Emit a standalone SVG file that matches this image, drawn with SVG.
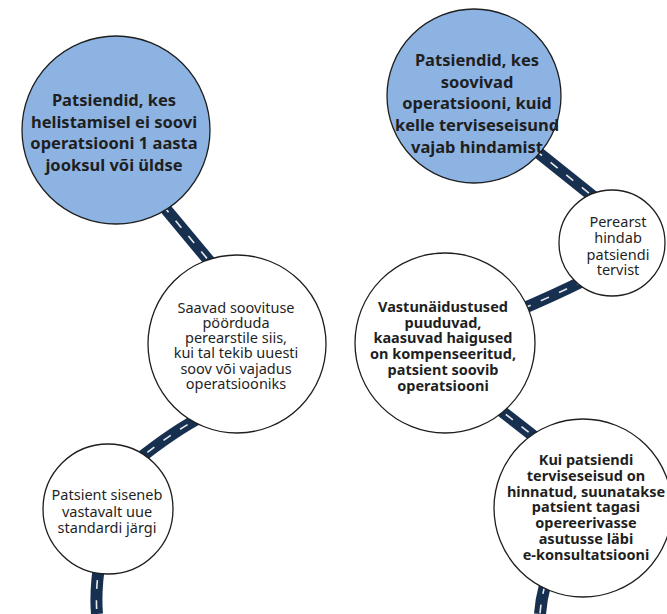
<svg xmlns="http://www.w3.org/2000/svg" width="667" height="614" viewBox="0 0 667 614">
<style>
.road{fill:none;stroke:#17304f;stroke-width:12;stroke-linecap:butt}
.dash{fill:none;stroke:#e6e9ee;stroke-width:1.6;stroke-dasharray:9 11}
.blue{fill:#8db3e2;stroke:#1e1e1e;stroke-width:1.3}
.white{fill:#ffffff;stroke:#1e1e1e;stroke-width:1.3}
text{font-family:"Noto Sans","Open Sans","DejaVu Sans",sans-serif;fill:#1f1f1f;text-anchor:middle}
.b16{font-size:16.5px;font-weight:bold}
.b14{font-size:14.5px;font-weight:bold}
.r14{font-size:14.5px}
</style>
<rect width="667" height="614" fill="#ffffff"/>
<g id="connectors">
<path class="road" d="M150 190 L215 268"/>
<path class="dash" d="M150 190 L215 268"/>
<path class="road" d="M205 415 Q175 430 135 462"/>
<path class="dash" d="M205 415 Q175 430 135 462"/>
<path class="road" d="M100 560 Q95 590 97 614"/>
<path class="dash" d="M100 560 Q95 590 97 614"/>
<path class="road" d="M535 150 L595 198"/>
<path class="dash" d="M535 150 L595 198"/>
<path class="road" d="M585 280 Q555 295 515 312"/>
<path class="dash" d="M585 280 Q555 295 515 312"/>
<path class="road" d="M490 402 L545 445"/>
<path class="dash" d="M490 402 L545 445"/>
<path class="road" d="M545 585 Q541 600 540 614"/>
<path class="dash" d="M545 585 Q541 600 540 614"/>
</g>
<g id="n1">
<circle class="blue" cx="116" cy="130" r="94"/>
<text class="b16"><tspan x="114" y="106">Patsiendid, kes</tspan><tspan x="114" y="128">helistamisel ei soovi</tspan><tspan x="114" y="149">operatsiooni 1 aasta</tspan><tspan x="114" y="171">jooksul või üldse</tspan></text>
</g>
<g id="n2">
<circle class="white" cx="237" cy="344" r="89"/>
<text class="r14"><tspan x="236" y="313">Saavad soovituse</tspan><tspan x="236" y="328">pöörduda</tspan><tspan x="236" y="343">perearstile siis,</tspan><tspan x="236" y="358">kui tal tekib uuesti</tspan><tspan x="236" y="374">soov või vajadus</tspan><tspan x="236" y="389">operatsiooniks</tspan></text>
</g>
<g id="n3">
<circle class="white" cx="108" cy="509" r="65"/>
<text class="r14"><tspan x="107" y="500">Patsient siseneb</tspan><tspan x="107" y="517">vastavalt uue</tspan><tspan x="107" y="533">standardi järgi</tspan></text>
</g>
<g id="n4">
<circle class="blue" cx="474" cy="96" r="87"/>
<text class="b16"><tspan x="477" y="66">Patsiendid, kes</tspan><tspan x="477" y="88">soovivad</tspan><tspan x="477" y="109">operatsiooni, kuid</tspan><tspan x="477" y="131">kelle terviseseisund</tspan><tspan x="477" y="153">vajab hindamist</tspan></text>
</g>
<g id="n5">
<circle class="white" cx="612" cy="243" r="53"/>
<text class="r14"><tspan x="618" y="227">Perearst</tspan><tspan x="618" y="243">hindab</tspan><tspan x="618" y="260">patsiendi</tspan><tspan x="618" y="275">tervist</tspan></text>
</g>
<g id="n6">
<circle class="white" cx="445" cy="343" r="90"/>
<text class="b14"><tspan x="443" y="312">Vastunäidustused</tspan><tspan x="443" y="328">puuduvad,</tspan><tspan x="443" y="343">kaasuvad haigused</tspan><tspan x="443" y="359">on kompenseeritud,</tspan><tspan x="443" y="375">patsient soovib</tspan><tspan x="443" y="391">operatsiooni</tspan></text>
</g>
<g id="n7">
<circle class="white" cx="583" cy="508" r="89"/>
<text class="b14"><tspan x="586" y="465">Kui patsiendi</tspan><tspan x="586" y="481">terviseseisud on</tspan><tspan x="586" y="497">hinnatud, suunatakse</tspan><tspan x="586" y="512">patsient tagasi</tspan><tspan x="586" y="528">opereerivasse</tspan><tspan x="586" y="544">asutusse läbi</tspan><tspan x="586" y="560">e-konsultatsiooni</tspan></text>
</g>
</svg>
